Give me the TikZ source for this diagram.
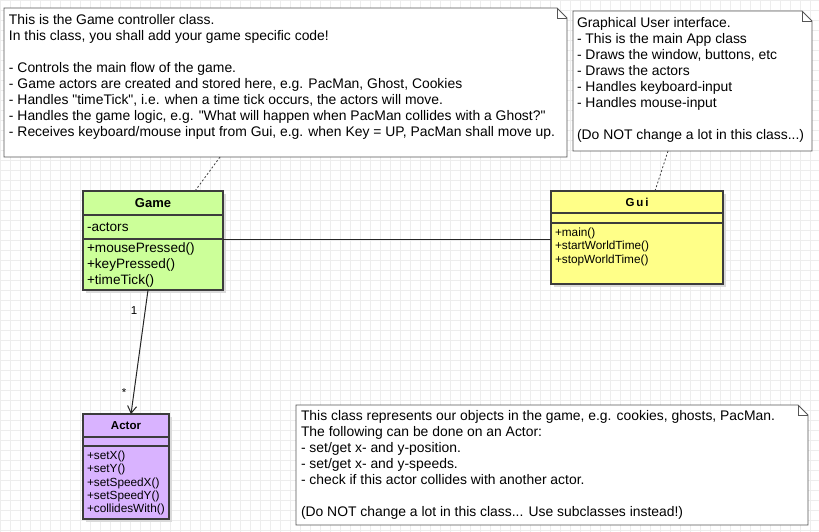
\documentclass[tikz,border=0pt]{standalone}
\usepackage{fontspec}
\setmainfont{Liberation Sans}[Ligatures=TeXOff]
\usetikzlibrary{calc,arrows.meta,backgrounds}
\definecolor{gridc}{HTML}{EDEDED}
\definecolor{gamec}{HTML}{CCFF99}
\definecolor{guic}{HTML}{FFFF88}
\definecolor{actorc}{HTML}{D9B3FF}
\definecolor{borderc}{HTML}{3C3C3C}
\definecolor{notec}{HTML}{555555}
\definecolor{shadowc}{HTML}{DADADA}
\begin{document}
\begin{tikzpicture}[x=1pt,y=-1pt,
  every node/.style={inner sep=0pt,outer sep=0pt},
  comp/.style={draw=borderc, line width=1.1pt, anchor=north west, minimum width=#1, rectangle},
  notefr/.style={anchor=north west, rectangle},
  noteline/.style={draw=notec, line width=0.9pt, fill=white},
  notetxt/.style={anchor=north west, align=left, font=\fontsize{13.9}{16}\selectfont},
  memtxt/.style={anchor=west, align=left, font=\fontsize{13.6}{16}\selectfont},
  smalltxt/.style={anchor=north west, align=left, font=\fontsize{11.8}{13.3}\selectfont},
  headbig/.style={font=\fontsize{13}{15}\selectfont\bfseries},
  headsmall/.style={font=\fontsize{11.5}{14}\selectfont\bfseries},
  dotlink/.style={draw=black!75, line width=0.8pt, dash pattern=on 2pt off 2pt},
  dashlink/.style={draw=black!75, line width=0.8pt, dash pattern=on 3pt off 2pt},
  assoc/.style={draw=black!85, line width=1pt}]
\useasboundingbox (0,0) rectangle (819,532);
\begin{scope}[on background layer]
  \fill[white] (0,0) rectangle (819,532);
  \draw[gridc, line width=0.8pt] (0,0) grid[step=10pt] (819,532);
\end{scope}

% ---- Game note
\node[notefr, minimum width=563pt, minimum height=149pt] (gnote) at (4,8) {};
\path[noteline] (gnote.north west) -- ($(gnote.north east)+(-10,0)$) -- ($(gnote.north east)+(0,10)$)
  -- (gnote.south east) -- (gnote.south west) -- cycle;
\draw[noteline, fill=none] ($(gnote.north east)+(-10,0)$) -- ($(gnote.north east)+(-10,10)$) -- ($(gnote.north east)+(0,10)$);
\node[notetxt] (gnotet) at (9,14) {This is the Game controller class.\\In this class, you shall add your game specific code!\\[16pt]- Controls the main flow of the game.\\- Game actors are created and stored here, e.g. PacMan, Ghost, Cookies\\- Handles "timeTick", i.e. when a time tick occurs, the actors will move.\\- Handles the game logic, e.g. "What will happen when PacMan collides with a Ghost?"\\- Receives keyboard/mouse input from Gui, e.g. when Key = UP, PacMan shall move up.};

% ---- Gui note
\node[notefr, minimum width=239pt, minimum height=140pt] (unote) at (573,11) {};
\path[noteline] (unote.north west) -- ($(unote.north east)+(-10,0)$) -- ($(unote.north east)+(0,10)$)
  -- (unote.south east) -- (unote.south west) -- cycle;
\draw[noteline, fill=none] ($(unote.north east)+(-10,0)$) -- ($(unote.north east)+(-10,10)$) -- ($(unote.north east)+(0,10)$);
\node[notetxt] (unotet) at (577,17.5) {Graphical User interface.\\- This is the main App class\\- Draws the window, buttons, etc\\- Draws the actors\\- Handles keyboard-input\\- Handles mouse-input\\[16pt](Do NOT change a lot in this class...)};

% ---- Actor note
\node[notefr, minimum width=512pt, minimum height=120pt] (anote) at (296,405) {};
\path[noteline] (anote.north west) -- ($(anote.north east)+(-10,0)$) -- ($(anote.north east)+(0,10)$)
  -- (anote.south east) -- (anote.south west) -- cycle;
\draw[noteline, fill=none] ($(anote.north east)+(-10,0)$) -- ($(anote.north east)+(-10,10)$) -- ($(anote.north east)+(0,10)$);
\node[notetxt] (anotet) at (301,410) {This class represents our objects in the game, e.g. cookies, ghosts, PacMan.\\The following can be done on an Actor:\\- set/get x- and y-position.\\- set/get x- and y-speeds.\\- check if this actor collides with another actor.\\[16pt](Do NOT change a lot in this class... Use subclasses instead!)};

% ---- Game class
\node[comp=140pt, minimum height=24pt, fill=gamec, headbig] (game) at (83,191) {Game};
\node[comp=140pt, minimum height=24pt, fill=gamec] (gamea) at (83,215) {};
\node[memtxt] (gameat) at ($(gamea.west)+(4,0)$) {-actors};
\node[comp=140pt, minimum height=51pt, fill=gamec] (gamem) at (83,239) {};
\node[memtxt] (gamemt) at ($(gamem.west)+(4,0)$) {+mousePressed()\\+keyPressed()\\+timeTick()};

% ---- Gui class
\node[comp=172pt, minimum height=22pt, fill=guic, headsmall] (gui) at (551,191) {G\,u\,i};
\node[comp=172pt, minimum height=10pt, fill=guic] (guia) at (551,213) {};
\node[comp=172pt, minimum height=61pt, fill=guic] (guim) at (551,223) {};
\node[smalltxt] (guimt) at ($(guim.north west)+(4,5)$) {+main()\\+startWorldTime()\\+stopWorldTime()};

% ---- Actor class
\node[comp=86pt, minimum height=23pt, fill=actorc, headsmall] (actor) at (83,414) {Actor};
\node[comp=86pt, minimum height=9pt, fill=actorc] (actora) at (83,437) {};
\node[comp=86pt, minimum height=73pt, fill=actorc] (actorm) at (83,446) {};
\node[smalltxt] (actormt) at ($(actorm.north west)+(4,5)$) {+setX()\\+setY()\\+setSpeedX()\\+setSpeedY()\\+collidesWith()};

% ---- shadows
\begin{scope}[on background layer]
  \fill[shadowc] ($(game.north west)+(3,3)$) rectangle ($(gamem.south east)+(3,3)$);
  \fill[shadowc] ($(gui.north west)+(3,3)$) rectangle ($(guim.south east)+(3,3)$);
  \fill[shadowc] ($(actor.north west)+(3,3)$) rectangle ($(actorm.south east)+(3,3)$);
\end{scope}

% ---- connectors
\draw[assoc] (gamem.north east) -- (gamem.north east -| guim.west);
\draw[assoc, -{Straight Barb[length=7pt,width=9pt]}] ($(gamem.south)+(-5,0)$) -- ($(actor.north)+(5,0)$);
\node[font=\fontsize{11.5}{13}\selectfont] (mult1) at (134,311) {1};
\node[font=\fontsize{11.5}{13}\selectfont] (multn) at (124,393) {*};
\draw[dotlink] ($(gnote.south west)+(216,0)$) -- ($(game.north west)+(112,0)$);
\draw[dotlink] ($(unote.south west)+(95,0)$) -- ($(gui.north west)+(104,0)$);
\draw[dashlink] ($(actorm.north east)+(0,20)$) -- ($(actorm.north east)+(0,20)$ -| anote.west);
\end{tikzpicture}
\end{document}
